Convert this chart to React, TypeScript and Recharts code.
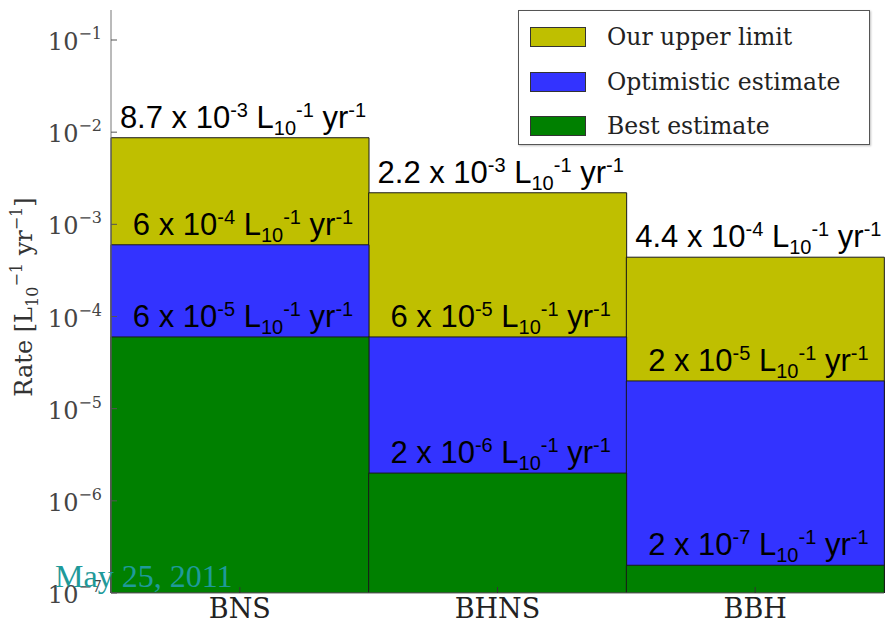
import React from 'react';
import { BarChart, Bar, XAxis, YAxis, LabelList } from 'recharts';

// merger classes and their rate estimates (per L10 per year)
const categories = ['BNS', 'BHNS', 'BBH'];
const upperLimit = [8.7e-3, 2.2e-3, 4.4e-4];
const optimistic = [6e-4, 6e-5, 2e-5];
const best = [6e-5, 2e-6, 2e-7];

const yTicks = [1e-7, 1e-6, 1e-5, 1e-4, 1e-3, 1e-2, 1e-1];
const yDomain: [number, number] = [1e-7, 0.2116];

const series = [
  { key: 'upper', name: 'Our upper limit', color: '#bfbf00', axis: 'a' },
  { key: 'optimistic', name: 'Optimistic estimate', color: '#3333ff', axis: 'b' },
  { key: 'best', name: 'Best estimate', color: '#008000', axis: 'c' },
];

const data = categories.map((name, i) => ({
  name,
  upper: upperLimit[i],
  optimistic: optimistic[i],
  best: best[i],
}));

const SANS = '"Liberation Sans", Arial, sans-serif';
const SERIF = '"DejaVu Serif", serif';

function splitSci(v: number) {
  const exp = Math.floor(Math.log10(v) + 1e-9);
  const mant = Number((v / Math.pow(10, exp)).toFixed(1));
  return { mant: String(mant), exp: String(exp) };
}

// "m x 10^e L_10^-1 yr^-1" written just above the bar top
const RateLabel = (props: any) => {
  const { x, y, width, value } = props;
  const { mant, exp } = splitSci(Number(value));
  return (
    <text
      x={x + width / 2 + 3}
      y={y - 10}
      textAnchor="middle"
      fontFamily={SANS}
      fontSize={31}
      fill="#000"
    >
      {`${mant} x 10`}
      <tspan fontSize={20} dy={-11}>{exp}</tspan>
      <tspan dy={11}> L</tspan>
      <tspan fontSize={20} dy={7}>10</tspan>
      <tspan fontSize={20} dy={-18}>-1</tspan>
      <tspan dy={11}> yr</tspan>
      <tspan fontSize={20} dy={-11}>-1</tspan>
    </text>
  );
};

const LeftTick = (props: any) => {
  const { x, y, payload } = props;
  const e = Math.round(Math.log10(payload.value));
  return (
    <g>
      <line x1={x + 9} x2={x + 15} y1={y} y2={y} stroke="#555" />
      <text x={x} y={y + 10} textAnchor="end" fontFamily={SERIF} fontSize={24} fill="#444">
        10
        <tspan fontSize={16} dy={-11}>{`\u2212${-e}`}</tspan>
      </text>
    </g>
  );
};

const RightTick = (props: any) => {
  const { x, y } = props;
  return <line x1={x} x2={x - 6} y1={y} y2={y} stroke="#555" />;
};

const CategoryTick = (props: any) => {
  const { x, y, payload } = props;
  return (
    <g>
      <line x1={x} x2={x} y1={y} y2={y - 6} stroke="#333" />
      <text x={x} y={y + 25} textAnchor="middle" fontFamily={SERIF} fontSize={27} fill="#222">
        {payload.value}
      </text>
    </g>
  );
};

export default function App() {
  return (
    <div style={{ position: 'absolute', left: 0, top: 0, width: 894, height: 622, background: '#fff' }}>
      <BarChart
        width={894}
        height={622}
        data={data}
        margin={{ top: 10, right: 10, left: 0, bottom: 0 }}
        barCategoryGap={0}
      >
        <XAxis
          xAxisId="a"
          dataKey="name"
          height={29}
          tickLine={false}
          tickSize={0}
          tickMargin={0}
          axisLine={{ stroke: '#666' }}
          tick={<CategoryTick />}
        />
        <XAxis xAxisId="b" dataKey="name" hide />
        <XAxis xAxisId="c" dataKey="name" hide />
        <YAxis
          scale="log"
          domain={yDomain}
          allowDataOverflow
          ticks={yTicks}
          width={111}
          tickLine={false}
          tickSize={0}
          tickMargin={9}
          axisLine={{ stroke: '#777' }}
          tick={<LeftTick />}
        />
        <YAxis
          yAxisId="r"
          orientation="right"
          scale="log"
          domain={yDomain}
          allowDataOverflow
          ticks={yTicks}
          width={0}
          tickLine={false}
          tickSize={0}
          tickMargin={0}
          axisLine={{ stroke: '#777' }}
          tick={<RightTick />}
        />
        {series.map((s) => (
          <Bar
            key={s.key}
            xAxisId={s.axis}
            dataKey={s.key}
            name={s.name}
            fill={s.color}
            stroke="#1a1a1a"
            strokeWidth={1}
            isAnimationActive={false}
          >
            <LabelList dataKey={s.key} content={<RateLabel />} />
          </Bar>
        ))}
        <text
          transform="translate(32, 297) rotate(-90)"
          textAnchor="middle"
          fontFamily={SERIF}
          fontSize={24}
          fill="#333"
        >
          {'Rate [L'}
          <tspan fontSize={16} dy={6}>10</tspan>
          <tspan fontSize={16} dy={-16}>{'\u22121'}</tspan>
          <tspan dy={10}>{'  yr'}</tspan>
          <tspan fontSize={16} dy={-10}>{'\u22121'}</tspan>
          <tspan dy={10}>]</tspan>
        </text>
      </BarChart>

      {/* legend box */}
      <div
        style={{
          position: 'absolute',
          left: 518,
          top: 10,
          width: 352,
          height: 135,
          border: '1px solid #555',
          background: '#fff',
          boxShadow: '1px 1px 2px rgba(0,0,0,0.25)',
          boxSizing: 'border-box',
        }}
      >
        {series.map((s, i) => (
          <div
            key={s.key}
            style={{ position: 'absolute', left: 11, top: 16 + i * 44.5, height: 20, display: 'flex', alignItems: 'center' }}
          >
            <div style={{ width: 56, height: 20, background: s.color, border: '1px solid #333', boxSizing: 'border-box' }} />
            <span style={{ marginLeft: 21, fontFamily: SERIF, fontSize: 23.5, color: '#222', whiteSpace: 'nowrap', lineHeight: '20px' }}>
              {s.name}
            </span>
          </div>
        ))}
      </div>

      <div
        style={{
          position: 'absolute',
          left: 55,
          top: 558,
          fontFamily: '"Liberation Serif", serif',
          fontSize: 32,
          lineHeight: '36px',
          color: '#1f9a9a',
          whiteSpace: 'nowrap',
        }}
      >
        May 25, 2011
      </div>
    </div>
  );
}
